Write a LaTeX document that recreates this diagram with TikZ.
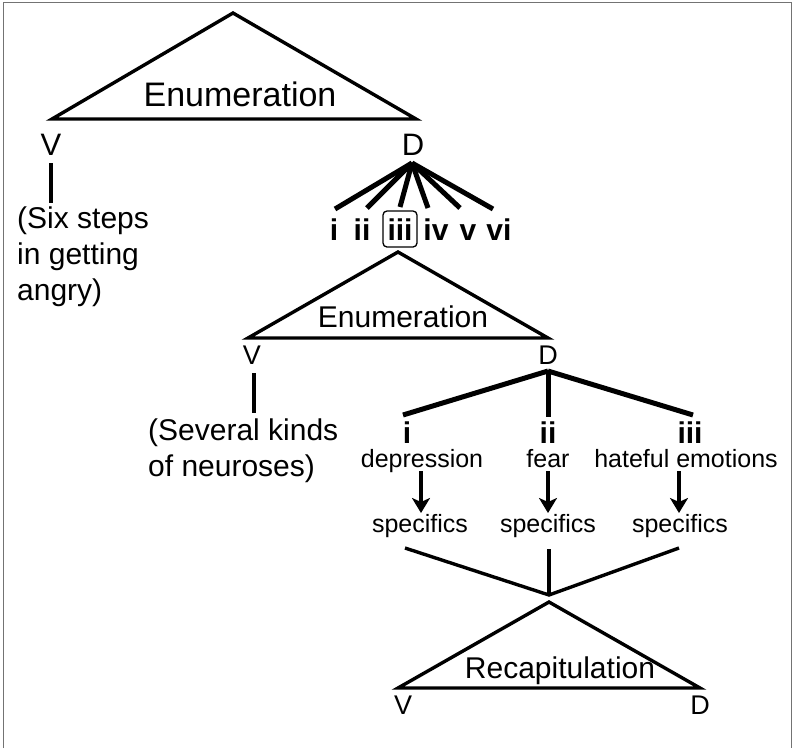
\documentclass[tikz,border=0pt]{standalone}
\usepackage{fontspec}
\setmainfont{Liberation Sans}
\usetikzlibrary{arrows.meta}
\begin{document}
\begin{tikzpicture}[x=1pt,y=-1pt,
  tri/.style={line width=3.4pt, line join=miter},
  fan/.style={line width=5pt},
  stem/.style={line width=3.4pt},
  arr/.style={line width=3.6pt, -{Stealth[length=15pt,width=18pt,inset=4pt]}},
  txt/.style={inner sep=0pt, anchor=base},
  big/.style={font=\fontsize{34}{40}\selectfont},
  mid/.style={font=\fontsize{30}{34}\selectfont},
  vd/.style={font=\fontsize{31}{34}\selectfont},
  vds/.style={font=\fontsize{27}{30}\selectfont},
  sml/.style={font=\fontsize{25}{30}\selectfont},
  num/.style={font=\bfseries\fontsize{30}{34}\selectfont},
  note/.style={inner sep=0pt, anchor=north west, align=left, font=\fontsize{30}{36}\selectfont}]
\useasboundingbox (0,0) rectangle (795,748);
\draw[black!55, line width=1.2pt] (3.5,748) -- (3.5,2.5) -- (791.5,2.5) -- (791.5,748);

% ---- top enumeration
\coordinate (a1) at (233,13);
\coordinate (l1) at (52,119);
\coordinate (r1) at (416,119);
\draw[tri] (l1) -- (a1) -- (r1) -- cycle;
\node[txt,big] (enum1) at (240,106) {Enumeration};
\node[txt,vd] (v1) at (51,155) {V};
\node[txt,vd] (d1) at (413,155) {D};
\coordinate (v1b) at (51,163);
\coordinate (v1e) at (51,203);
\draw[stem] (v1b) -- (v1e);
\node[note] (six) at (17,207) {(Six steps\\in getting\\angry)};

% fan from D
\coordinate (d1b) at (412,163);
\node[txt,num] (n1) at (334,240) {i};
\node[txt,num] (n2) at (362,240) {ii};
\node[txt,num] (n3) at (400,240) {iii};
\node[txt,num] (n4) at (436,240) {iv};
\node[txt,num] (n5) at (468,240) {v};
\node[txt,num] (n6) at (499,240) {vi};
\draw[rounded corners=4pt, line width=1.3pt] (383,211) rectangle (417,247);
\coordinate (f1) at (335,209);
\coordinate (f2) at (367,208);
\coordinate (f3) at (400,207);
\coordinate (f4) at (428,208);
\coordinate (f5) at (460,208);
\coordinate (f6) at (493,209);
\foreach \k in {1,...,6} \draw[fan] (d1b) -- (f\k);

% ---- second enumeration
\coordinate (a2) at (398,252);
\coordinate (l2) at (248,338);
\coordinate (r2) at (548,338);
\draw[tri] (l2) -- (a2) -- (r2) -- cycle;
\node[txt,mid] (enum2) at (403,327) {Enumeration};
\node[txt,vds] (v2) at (252,364) {V};
\node[txt,vds] (d2) at (548,364) {D};
\coordinate (v2b) at (254,373);
\coordinate (v2e) at (254,413);
\draw[stem] (v2b) -- (v2e);
\node[note] (sev) at (148,419) {(Several kinds\\of neuroses)};

\coordinate (d2b) at (548,371);
\coordinate (g1) at (403,415);
\coordinate (g2) at (548,417);
\coordinate (g3) at (693,415);
\foreach \k in {1,2,3} \draw[fan] (d2b) -- (g\k);
\node[txt,num] (m1) at (407,443) {i};
\node[txt,num] (m2) at (548,443) {ii};
\node[txt,num] (m3) at (690,443) {iii};
\node[txt,sml] (dep) at (422,467) {depression};
\node[txt,sml] (fear) at (548,467) {fear};
\node[txt,sml] (hate) at (686,467) {hateful emotions};
\node[txt,sml] (s1) at (420,532) {specifics};
\node[txt,sml] (s2) at (548,532) {specifics};
\node[txt,sml] (s3) at (680,532) {specifics};
\coordinate (t1) at (421,471); \coordinate (h1) at (421,513);
\coordinate (t2) at (548,471); \coordinate (h2) at (548,513);
\coordinate (t3) at (679,471); \coordinate (h3) at (679,513);
\foreach \k in {1,2,3} \draw[arr] (t\k) -- (h\k);

% converge
\coordinate (c0) at (549,595);
\coordinate (c1) at (405,548);
\coordinate (c2) at (549,549);
\coordinate (c3) at (679,548);
\draw[tri] (c1) -- (c0) -- (c3);
\draw[tri] (c2) -- (c0);

% ---- recapitulation
\coordinate (a3) at (549,602);
\coordinate (l3) at (398,688);
\coordinate (r3) at (700,688);
\draw[tri] (l3) -- (a3) -- (r3) -- cycle;
\node[txt,mid] (rec) at (560,678) {Recapitulation};
\node[txt,vds] (v3) at (403,714) {V};
\node[txt,vds] (d3) at (700,714) {D};
\end{tikzpicture}
\end{document}
